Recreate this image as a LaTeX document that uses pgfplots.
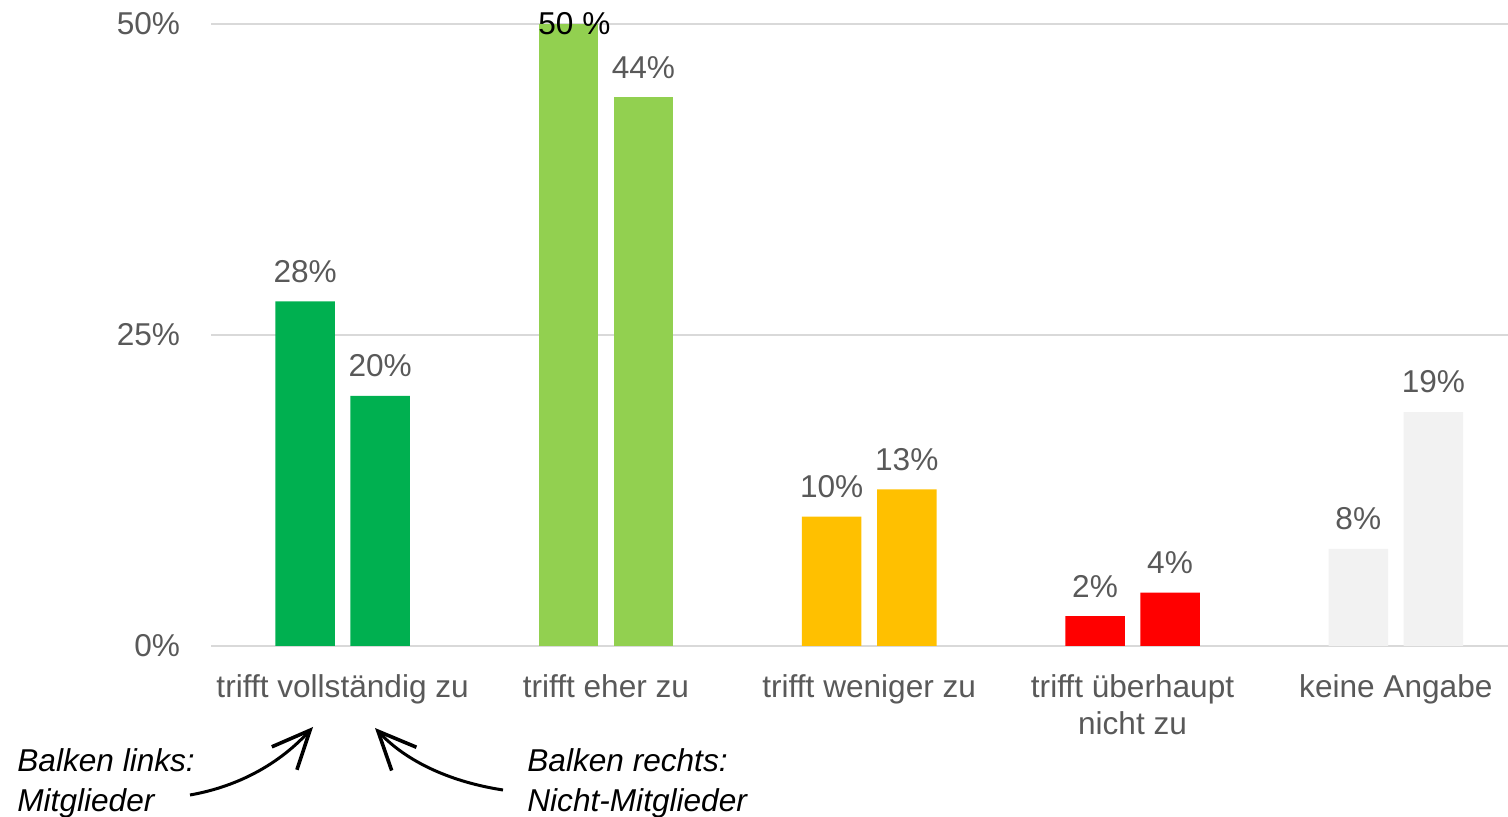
\documentclass[border=0pt]{standalone}
\usepackage{fontspec}
\setmainfont{Liberation Sans}
\usepackage{pgfplots}
\pgfplotsset{compat=1.18}
\usetikzlibrary{arrows.meta}
\definecolor{lbl}{HTML}{595959}
\definecolor{gridc}{HTML}{D9D9D9}
\definecolor{dgreen}{HTML}{00B050}
\definecolor{lgreen}{HTML}{92D050}
\definecolor{amber}{HTML}{FFC000}
\definecolor{cred}{HTML}{FF0000}
\definecolor{cgrey}{HTML}{F2F2F2}
\begin{document}
\begin{tikzpicture}
\fontsize{15.8}{18.5}\selectfont
\begin{axis}[
    at={(0,0)}, anchor=south west,
    scale only axis,
    width=648.5pt, height=311pt,
    xmin=-0.5, xmax=4.426,
    ymin=0, ymax=50,
    clip=false,
    axis line style={draw=none},
    major tick length=0pt,
    ymajorgrids,
    grid style={gridc, line width=0.9pt},
    ytick={0,25,50},
    yticklabels={0\%,25\%,50\%},
    xtick={0,1,2,3,4},
    xticklabels={trifft vollständig zu, trifft eher zu, trifft weniger zu, {trifft überhaupt\\nicht zu}, keine Angabe},
    tick label style={font=\fontsize{15.8}{18.5}\selectfont, text=lbl},
    xticklabel style={align=center, yshift=-9pt},
    yticklabel style={xshift=-10pt},
    /pgf/number format/assume math mode=true,
    ybar, bar width=0.226, bar shift=0pt,
    point meta=explicit symbolic,
    nodes near coords,
    every node near coord/.append style={font=\fontsize{15.8}{18.5}\selectfont, text=lbl, yshift=4pt},
]
\addplot[fill=dgreen, draw=none] coordinates {(-0.1425,27.7) [28\%] (0.1425,20.1) [20\%]};
\addplot[fill=lgreen, draw=none, every node near coord/.append style={text=black, anchor=base, yshift=-9.5pt, xshift=3pt}] coordinates {(0.8575,50) [50 \%]};
\addplot[fill=lgreen, draw=none] coordinates {(1.1425,44.1) [44\%]};
\addplot[fill=amber, draw=none] coordinates {(1.8575,10.4) [10\%] (2.1425,12.6) [13\%]};
\addplot[fill=cred, draw=none] coordinates {(2.8575,2.4) [2\%] (3.1425,4.3) [4\%]};
\addplot[fill=cgrey, draw=none] coordinates {(3.8575,7.8) [8\%] (4.1425,18.8) [19\%]};
\end{axis}
% annotations below the first category
\node[anchor=base west, inner sep=0pt, font=\itshape] at (-97pt,-63pt) {Balken links:};
\node[anchor=base west, inner sep=0pt, font=\itshape] at (-97pt,-83pt) {Mitglieder};
\node[anchor=base west, inner sep=0pt, font=\itshape] at (158pt,-63pt) {Balken rechts:};
\node[anchor=base west, inner sep=0pt, font=\itshape] at (158pt,-83pt) {Nicht-Mitglieder};
\draw[line width=1.5pt, -{Straight Barb[length=19pt, width=17pt, line width=1.8pt]}]
    (-10.5pt,-74.5pt) .. controls (15pt,-70pt) and (35pt,-58pt) .. (51pt,-40.5pt);
\draw[line width=1.5pt, -{Straight Barb[length=19pt, width=17pt, line width=1.8pt]}]
    (146pt,-72pt) .. controls (120pt,-68pt) and (98pt,-58pt) .. (82pt,-41pt);
\pgfresetboundingbox
\useasboundingbox (-105.5pt,-85.5pt) rectangle (648.5pt,323pt);
\end{tikzpicture}
\end{document}
